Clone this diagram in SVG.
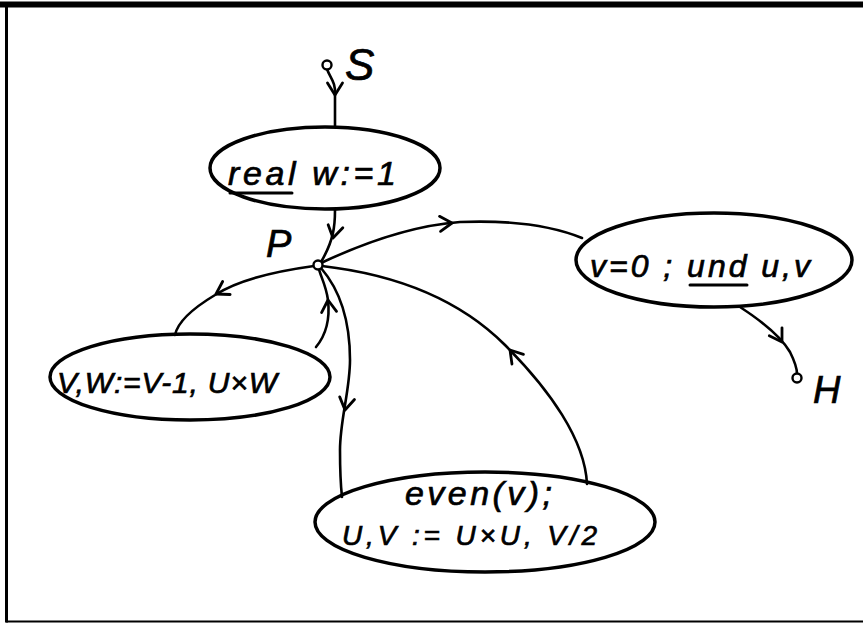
<svg xmlns="http://www.w3.org/2000/svg" width="863" height="624" viewBox="0 0 863 624">
  <style>
    .frame { fill: none; stroke: #000; stroke-linecap: square; }
    .node { fill: none; stroke: #000; stroke-width: 3.5; }
    .edge { fill: none; stroke: #000; stroke-width: 2.6; stroke-linecap: round; }
    .tip { fill: none; stroke: #000; stroke-width: 2.8; stroke-linecap: round; stroke-linejoin: round; }
    .port { fill: #fff; stroke: #000; stroke-width: 2.4; }
    .hand { font-family: "Liberation Sans", "DejaVu Sans", sans-serif; font-style: italic; fill: #000; stroke: #000; stroke-width: 0.7; }
    .ul { stroke: #000; stroke-width: 3; stroke-linecap: round; }
  </style>
  <defs>
    <!-- open V arrowhead pointing along +x -->
    <path id="head" class="tip" d="M -12 -7.5 L 0 0 L -12 7.5"/>
  </defs>

  <rect width="863" height="624" fill="#fff"/>

  <!-- page frame: heavy top rule, left rule, thin bottom rule -->
  <line class="frame" x1="3" y1="4.5" x2="863" y2="4.5" stroke-width="6"/>
  <line class="frame" x1="6.5" y1="4" x2="6.5" y2="621" stroke-width="3"/>
  <line class="frame" x1="7" y1="621.5" x2="863" y2="621.5" stroke-width="2"/>

  <!-- connectors -->
  <g id="edges">
    <path class="edge" d="M 327 69 C 330 78, 336 82, 335 95 L 335 127"/>
    <path class="edge" d="M 335 210 C 335 225, 334 240, 321 262"/>
    <path class="edge" d="M 321 263 C 370 240, 420 225, 460 222 C 510 220, 550 225, 582 238"/>
    <path class="edge" d="M 740 307 C 760 320, 780 335, 790 352 C 795 362, 797 368, 797 374"/>
    <path class="edge" d="M 314 266 C 270 272, 235 282, 215 295 C 195 307, 178 320, 175 335"/>
    <path class="edge" d="M 316 347 C 326 335, 330 318, 328 300 C 326 285, 320 275, 319 269"/>
    <path class="edge" d="M 321 268 C 340 290, 350 320, 350 360 C 350 390, 340 420, 340 450 C 340 475, 341 488, 342 497"/>
    <path class="edge" d="M 587 484 C 585 440, 550 390, 505 345 C 460 300, 400 275, 322 266"/>

    <use href="#head" transform="translate(335 95) rotate(90)"/>
    <use href="#head" transform="translate(333 238) rotate(102)"/>
    <use href="#head" transform="translate(452 223) rotate(-4)"/>
    <use href="#head" transform="translate(782 342) rotate(58)"/>
    <use href="#head" transform="translate(216 294) rotate(150)"/>
    <use href="#head" transform="translate(328 300) rotate(-95)"/>
    <use href="#head" transform="translate(345 410) rotate(100)"/>
    <use href="#head" transform="translate(510 350) rotate(-130)"/>
  </g>

  <!-- start point S -->
  <g id="start">
    <circle class="port" cx="327" cy="65" r="4.5"/>
    <text class="hand" x="345" y="80" font-size="44">S</text>
  </g>

  <!-- declaration -->
  <g id="decl">
    <ellipse class="node" cx="325" cy="168" rx="115" ry="41"/>
    <text class="hand" x="228" y="185" font-size="34" textLength="168" lengthAdjust="spacing">real w:=1</text>
    <line class="ul" x1="230" y1="193" x2="292" y2="193"/>
  </g>

  <!-- junction P -->
  <g id="junction">
    <circle class="port" cx="318" cy="265" r="4.5"/>
    <text class="hand" x="266" y="257" font-size="38">P</text>
  </g>

  <!-- exit test -->
  <g id="exit-test">
    <ellipse class="node" cx="714" cy="260" rx="138" ry="47"/>
    <text class="hand" x="590" y="277" font-size="32" textLength="220" lengthAdjust="spacing">v=0 ; und u,v</text>
    <line class="ul" x1="690" y1="285" x2="747" y2="285"/>
  </g>

  <!-- halt point H -->
  <g id="halt">
    <circle class="port" cx="797" cy="378" r="4.5"/>
    <text class="hand" x="813" y="403" font-size="38">H</text>
  </g>

  <!-- odd step -->
  <g id="odd-step">
    <ellipse class="node" cx="190" cy="377" rx="140" ry="43"/>
    <text class="hand" x="57" y="393" font-size="30" textLength="220" lengthAdjust="spacing">V,W:=V-1, U×W</text>
  </g>

  <!-- even step -->
  <g id="even-step">
    <ellipse class="node" cx="485" cy="522" rx="170" ry="50"/>
    <text class="hand" x="405" y="505" font-size="34" textLength="147" lengthAdjust="spacing">even(v);</text>
    <text class="hand" x="342" y="545" font-size="28" textLength="255" lengthAdjust="spacing">U,V := U×U, V/2</text>
  </g>
</svg>
